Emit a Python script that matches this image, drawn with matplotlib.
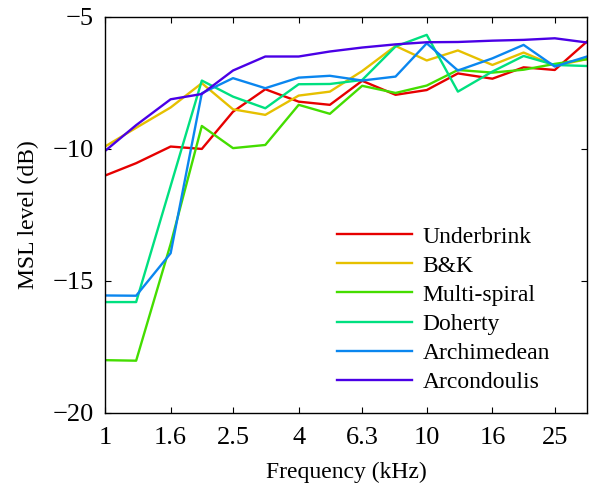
import numpy as np
import matplotlib
matplotlib.use("Agg")
import matplotlib.pyplot as plt

plt.rcParams['font.family'] = ['Liberation Serif', 'DejaVu Serif']
plt.rcParams['axes.unicode_minus'] = True

"""Data: one-third octave band centres (kHz) and MSL level (dB) per array"""
freq = [1, 1.25, 1.6, 2, 2.5, 3.15, 4, 5, 6.3, 8, 10, 12.5, 16, 20, 25, 31.5]

underbrink = [-11.01, -10.54, -9.91, -10.0, -8.59, -7.74, -8.21, -8.33,
              -7.42, -7.95, -7.77, -7.14, -7.34, -6.91, -7.01, -5.93]
bk = [-9.91, -9.2, -8.43, -7.51, -8.5, -8.71, -7.98, -7.83,
      -7.05, -6.1, -6.65, -6.27, -6.82, -6.35, -6.85, -6.6]
multi_spiral = [-18.0, -18.02, -13.6, -9.13, -9.97, -9.85, -8.33, -8.67,
                -7.61, -7.88, -7.6, -7.01, -7.11, -7.0, -6.78, -6.6]
doherty = [-15.8, -15.8, -11.4, -7.41, -8.02, -8.46, -7.55, -7.54,
           -7.39, -6.12, -5.68, -7.83, -7.07, -6.48, -6.82, -6.86]
archimedean = [-15.55, -15.56, -13.95, -7.89, -7.32, -7.7, -7.3, -7.23,
               -7.41, -7.26, -6.0, -7.03, -6.57, -6.06, -6.88, -6.5]
arcondoulis = [-10.08, -9.1, -8.12, -7.92, -7.03, -6.5, -6.5, -6.31,
               -6.16, -6.04, -5.96, -5.95, -5.9, -5.87, -5.81, -5.97]

names = ["Underbrink", "B&K", "Multi-spiral", "Doherty", "Archimedean", "Arcondoulis"]
series = [underbrink, bk, multi_spiral, doherty, archimedean, arcondoulis]
colors = ["#e60000", "#e6c000", "#44dd00", "#00e080", "#0a86ef", "#4a00e6"]

xticks = [1, 1.6, 2.5, 4, 6.3, 10, 16, 25]
xticklabels = ["1", "1.6", "2.5", "4", "6.3", "10", "16", "25"]
yticks = [-20, -15, -10, -5]

"""Plot"""
fig = plt.figure(figsize=(5.93, 4.83), dpi=100)
ax = fig.add_axes([0.177, 0.145, 0.813, 0.82])

for name, vals, c in zip(names, series, colors):
    ax.plot(freq, vals, color=c, lw=1.7, label=name)

ax.set_xscale("log")
ax.set_xlim(1, 31.5)
ax.set_ylim(-20, -5)
ax.set_xticks(xticks)
ax.set_xticklabels(xticklabels)
ax.minorticks_off()
ax.set_yticks(yticks)
ax.tick_params(direction="in", top=True, right=True, length=4, labelsize=19)
ax.tick_params(axis="x", pad=10)
ax.tick_params(axis="y", pad=8)
for s in ax.spines.values():
    s.set_linewidth(1.0)

ax.set_xlabel("Frequency (kHz)", fontsize=17, labelpad=9)
ax.set_ylabel("MSL level (dB)", fontsize=17, labelpad=10)

ax.legend(loc="upper left", bbox_to_anchor=(0.481, 0.472), frameon=False, fontsize=17,
          borderpad=0, borderaxespad=0,
          handlelength=3.2, handletextpad=0.42, labelspacing=0.32)

plt.savefig("out.png", dpi=100)
